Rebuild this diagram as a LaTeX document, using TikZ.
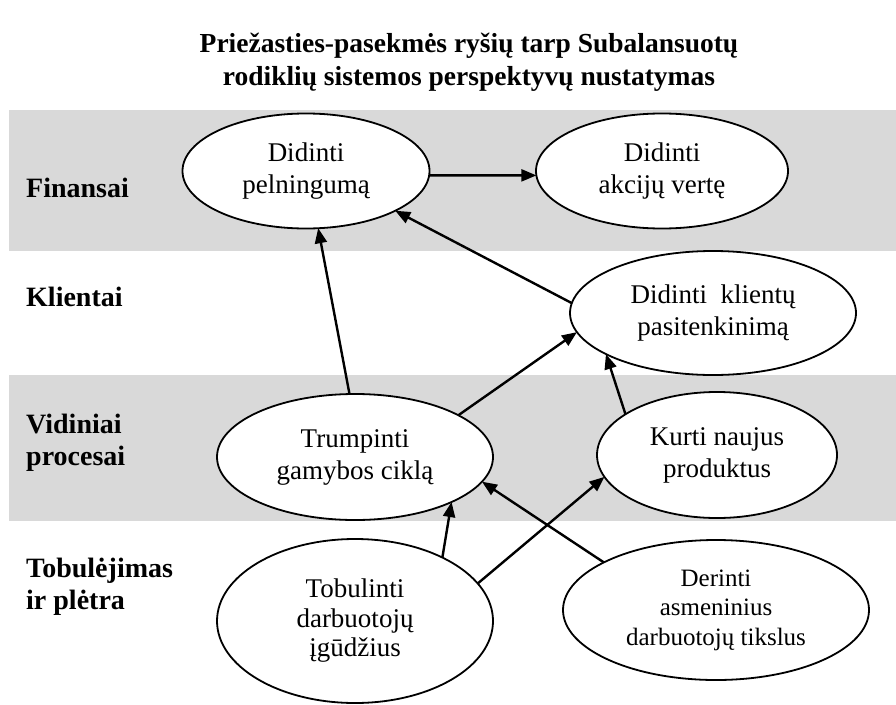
\documentclass[tikz,border=0pt]{standalone}
\usepackage{fontspec}
\setmainfont{Liberation Serif}
\usetikzlibrary{arrows.meta,shapes.geometric}
\definecolor{bandgray}{HTML}{D9D9D9}
\begin{document}
\begin{tikzpicture}[x=1pt,y=-1pt,
  goal/.style={ellipse, draw, line width=1.8pt, fill=white, inner sep=0pt,
    outer sep=0pt, align=center, font=\fontsize{27}{32}\selectfont},
  goalthree/.style={goal, font=\fontsize{27}{29.5}\selectfont},
  link/.style={line width=2.4pt, -{Triangle[length=15pt,width=12pt]}},
  lbl/.style={anchor=west, inner sep=0pt, align=left,
    font=\bfseries\fontsize{28}{32}\selectfont}]
\useasboundingbox (0,0) rectangle (896,704);

% perspective bands
\fill[bandgray] (9,110) rectangle (896,251);
\fill[bandgray] (9,375) rectangle (896,521);

% heading
\node[font=\bfseries\fontsize{27.5}{33}\selectfont, align=center] (title) at (469,62)
  {Priežasties-pasekmės ryšių tarp Subalansuotų\\rodiklių sistemos perspektyvų nustatymas};

% perspective names
\node[lbl] (fin) at (26,188) {Finansai};
\node[lbl] (kl) at (26,297) {Klientai};
\node[lbl] (vid) at (26,443) {Vidiniai\\procesai};
\node[lbl] (tobl) at (26,587) {Tobulėjimas\\ir plėtra};

% objectives
\node[goal, minimum width=247pt, minimum height=115pt] (pel) at (306,171) {Didinti\\pelningumą};
\node[goal, minimum width=252pt, minimum height=115pt] (akc) at (662,171) {Didinti\\akcijų vertę};
\node[goal, minimum width=286pt, minimum height=124pt] (kli) at (713,313) {Didinti\ \ klientų\\pasitenkinimą};
\node[goal, minimum width=276pt, minimum height=126pt] (tru) at (355,457) {Trumpinti\\gamybos ciklą};
\node[goal, minimum width=240pt, minimum height=126pt] (kur) at (717,455) {Kurti naujus\\produktus};
\node[goalthree, minimum width=276pt, minimum height=164pt] (tob) at (355,621) {Tobulinti\\darbuotojų\\įgūdžius};
\node[goalthree, minimum width=306pt, minimum height=140pt,
  font=\fontsize{25}{29.5}\selectfont] (der) at (716,610) {Derinti\\asmeninius\\darbuotojų tikslus};

% cause-effect links
\draw[link] (pel.-2) -- (akc.182);
\draw[link] (tru.95) -- (pel.282);
\draw[link] (kli.176) -- (pel.336);
\draw[link] (tru.22) -- (kli.188);
\draw[link] (kur.156) -- (kli.201);
\draw[link] (tob.36) -- (tru.335);
\draw[link] (tob.17) -- (kur.191);
\draw[link] (der.157) -- (tru.349);
\end{tikzpicture}
\end{document}
